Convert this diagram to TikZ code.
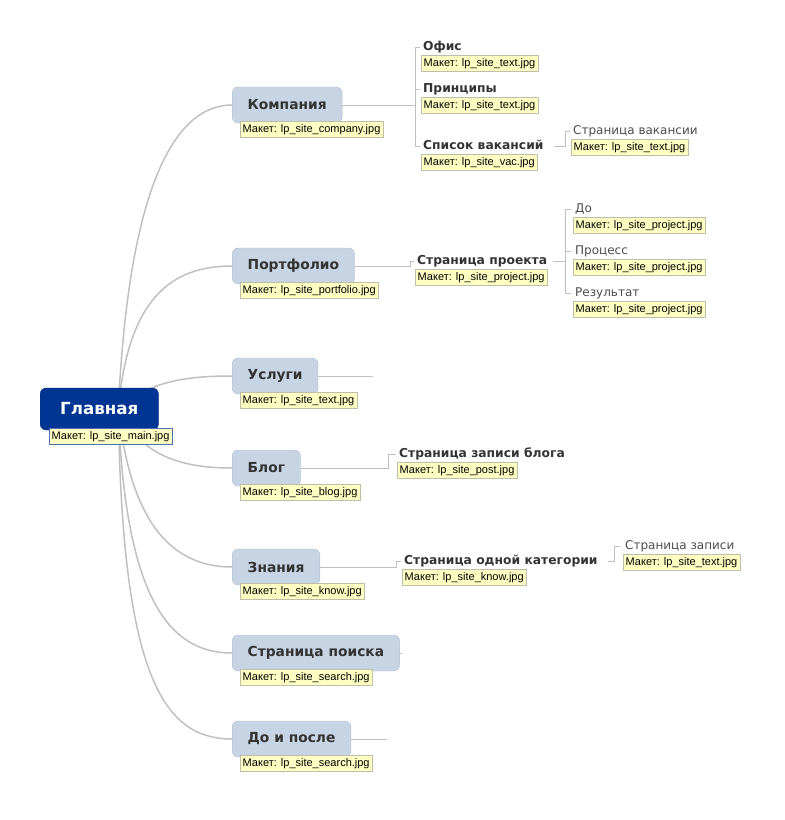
\documentclass[tikz,border=0pt]{standalone}
\usepackage{fontspec}
\setmainfont{DejaVu Sans}
\newfontfamily\tagfont{Liberation Sans}
\usetikzlibrary{positioning,backgrounds}
\definecolor{rootblue}{RGB}{0,53,148}
\definecolor{topicfill}{RGB}{198,212,227}
\definecolor{topicdraw}{RGB}{175,192,210}
\definecolor{tagfill}{RGB}{255,255,196}
\definecolor{tagdraw}{RGB}{190,190,170}
\definecolor{linkgray}{RGB}{192,192,192}
\definecolor{inkgray}{RGB}{51,51,51}
\tikzset{
	root/.style={draw=rootblue!85!black,fill=rootblue,rounded corners=6pt,text=white,font=\fontsize{16.7}{18}\selectfont\bfseries,minimum height=42pt,inner xsep=20pt,anchor=west},
	topic/.style={draw=topicdraw,fill=topicfill,rounded corners=6pt,text=inkgray,font=\fontsize{13.8}{16}\selectfont\bfseries,minimum height=36pt,inner xsep=15.5pt,anchor=west},
	sub/.style={text=inkgray,font=\fontsize{12.3}{14}\selectfont\bfseries,inner sep=0pt,text height=9pt,text depth=2.5pt,anchor=west},
	leaf/.style={text=black!70,font=\fontsize{12}{14}\selectfont,inner sep=0pt,text height=9pt,text depth=2.5pt,anchor=west},
	tag/.style={draw=tagdraw,fill=tagfill,font=\tagfont\fontsize{11}{12}\selectfont,inner xsep=2.5pt,inner ysep=0pt,minimum height=16pt},
	trunk/.style={draw=linkgray,line width=1.5pt},
	twig/.style={draw=linkgray,line width=0.8pt}
}
\begin{document}
\begin{tikzpicture}[x=1pt,y=-1pt]
	\useasboundingbox (0,0) rectangle (785,820);
	\node[root] (main) at (40,409) {Главная};
	\node[tag,draw=rootblue!70,below right=-2pt and 9pt of main.south west] (maintag) {Макет: lp\_site\_main.jpg};
	\node[topic] (komp) at (232,105) {Компания};
	\node[topic] (port) at (232,266) {Портфолио};
	\node[topic] (usl) at (232,376) {Услуги};
	\node[topic] (blog) at (232,468) {Блог};
	\node[topic] (know) at (232,567) {Знания};
	\node[topic] (search) at (232,653) {Страница поиска};
	\node[topic] (before) at (232,739) {До и после};
	\node[tag,below right=-2pt and 8pt of komp.south west] (komptag) {Макет: lp\_site\_company.jpg};
	\node[tag,below right=-2pt and 8pt of port.south west] (porttag) {Макет: lp\_site\_portfolio.jpg};
	\node[tag,below right=-2pt and 8pt of usl.south west] (usltag) {Макет: lp\_site\_text.jpg};
	\node[tag,below right=-2pt and 8pt of blog.south west] (blogtag) {Макет: lp\_site\_blog.jpg};
	\node[tag,below right=-2pt and 8pt of know.south west] (knowtag) {Макет: lp\_site\_know.jpg};
	\node[tag,below right=-2pt and 8pt of search.south west] (searchtag) {Макет: lp\_site\_search.jpg};
	\node[tag,below right=-2pt and 8pt of before.south west] (beforetag) {Макет: lp\_site\_search.jpg};
	\node[sub] (ofis) at (423,47) {Офис};
	\node[sub] (princ) at (423,89) {Принципы};
	\node[sub] (vac) at (423,146) {Список вакансий};
	\node[leaf] (vacpage) at (573,131) {Страница вакансии};
	\node[sub] (proj) at (417,261) {Страница проекта};
	\node[leaf] (pdo) at (575,209) {До};
	\node[leaf] (proc) at (575,251) {Процесс};
	\node[leaf] (res) at (575,293) {Результат};
	\node[sub] (post) at (399,454) {Страница записи блога};
	\node[sub] (cat) at (404,561) {Страница одной категории};
	\node[leaf] (entry) at (625,546) {Страница записи};
	\node[tag,below right=2.5pt and -2pt of ofis.south west] (ofistag) {Макет: lp\_site\_text.jpg};
	\node[tag,below right=2.5pt and -2pt of princ.south west] (princtag) {Макет: lp\_site\_text.jpg};
	\node[tag,below right=2.5pt and -2pt of vac.south west] (vactag) {Макет: lp\_site\_vac.jpg};
	\node[tag,below right=2.5pt and -2pt of vacpage.south west] (vacpagetag) {Макет: lp\_site\_text.jpg};
	\node[tag,below right=2.5pt and -2pt of proj.south west] (projtag) {Макет: lp\_site\_project.jpg};
	\node[tag,below right=2.5pt and -2pt of pdo.south west] (pdotag) {Макет: lp\_site\_project.jpg};
	\node[tag,below right=2.5pt and -2pt of proc.south west] (proctag) {Макет: lp\_site\_project.jpg};
	\node[tag,below right=2.5pt and -2pt of res.south west] (restag) {Макет: lp\_site\_project.jpg};
	\node[tag,below right=2.5pt and -2pt of post.south west] (posttag) {Макет: lp\_site\_post.jpg};
	\node[tag,below right=2.5pt and -2pt of cat.south west] (cattag) {Макет: lp\_site\_know.jpg};
	\node[tag,below right=2.5pt and -2pt of entry.south west] (entrytag) {Макет: lp\_site\_text.jpg};
	\coordinate (hub) at ([xshift=19pt]main.center);
	\coordinate (kompj) at (415,105);
	\coordinate (portj) at (410,266);
	\coordinate (vacj) at (565,146);
	\coordinate (projj) at (565,261);
	\coordinate (blogj) at (388,468);
	\coordinate (knowj) at (396,567);
	\coordinate (catj) at (614,561);
	\coordinate (uslend) at (373,376);
	\coordinate (searchend) at (402,653);
	\coordinate (beforeend) at (387,739);
	\begin{scope}[on background layer]
	\draw[trunk] (hub) .. controls (128,200) and (170,105) .. (komp.west);
	\draw[trunk] (hub) .. controls (128,300) and (170,266) .. (port.west);
	\draw[trunk] (hub) .. controls (150,380) and (190,376) .. (usl.west);
	\draw[trunk] (hub) .. controls (140,455) and (180,468) .. (blog.west);
	\draw[trunk] (hub) .. controls (130,520) and (170,567) .. (know.west);
	\draw[trunk] (hub) .. controls (125,600) and (170,653) .. (search.west);
	\draw[trunk] (hub) .. controls (122,680) and (165,739) .. (before.west);
	\end{scope}
	\draw[twig] (komp.east) -- (kompj);
	\draw[twig] (kompj) |- ([xshift=-3pt]ofis.west);
	\draw[twig] (kompj) |- ([xshift=-3pt]princ.west);
	\draw[twig] (kompj) |- ([xshift=-3pt]vac.west);
	\draw[twig] ([xshift=10pt]vac.east) -- (vacj) |- ([xshift=-3pt]vacpage.west);
	\draw[twig] (port.east) -- (portj) |- ([xshift=-3pt]proj.west);
	\draw[twig] ([xshift=6pt]proj.east) -- (projj);
	\draw[twig] (projj) |- ([xshift=-4pt]pdo.west);
	\draw[twig] (projj) |- ([xshift=-4pt]proc.west);
	\draw[twig] (projj) |- ([xshift=-4pt]res.west);
	\draw[twig] (usl.east) -- (uslend);
	\draw[twig] (blog.east) -- (blogj) |- ([xshift=-3pt]post.west);
	\draw[twig] (know.east) -- (knowj) |- ([xshift=-3pt]cat.west);
	\draw[twig] ([xshift=10pt]cat.east) -- (catj) |- ([xshift=-5pt]entry.west);
	\draw[twig] (search.east) -- (searchend);
	\draw[twig] (before.east) -- (beforeend);
\end{tikzpicture}
\end{document}
